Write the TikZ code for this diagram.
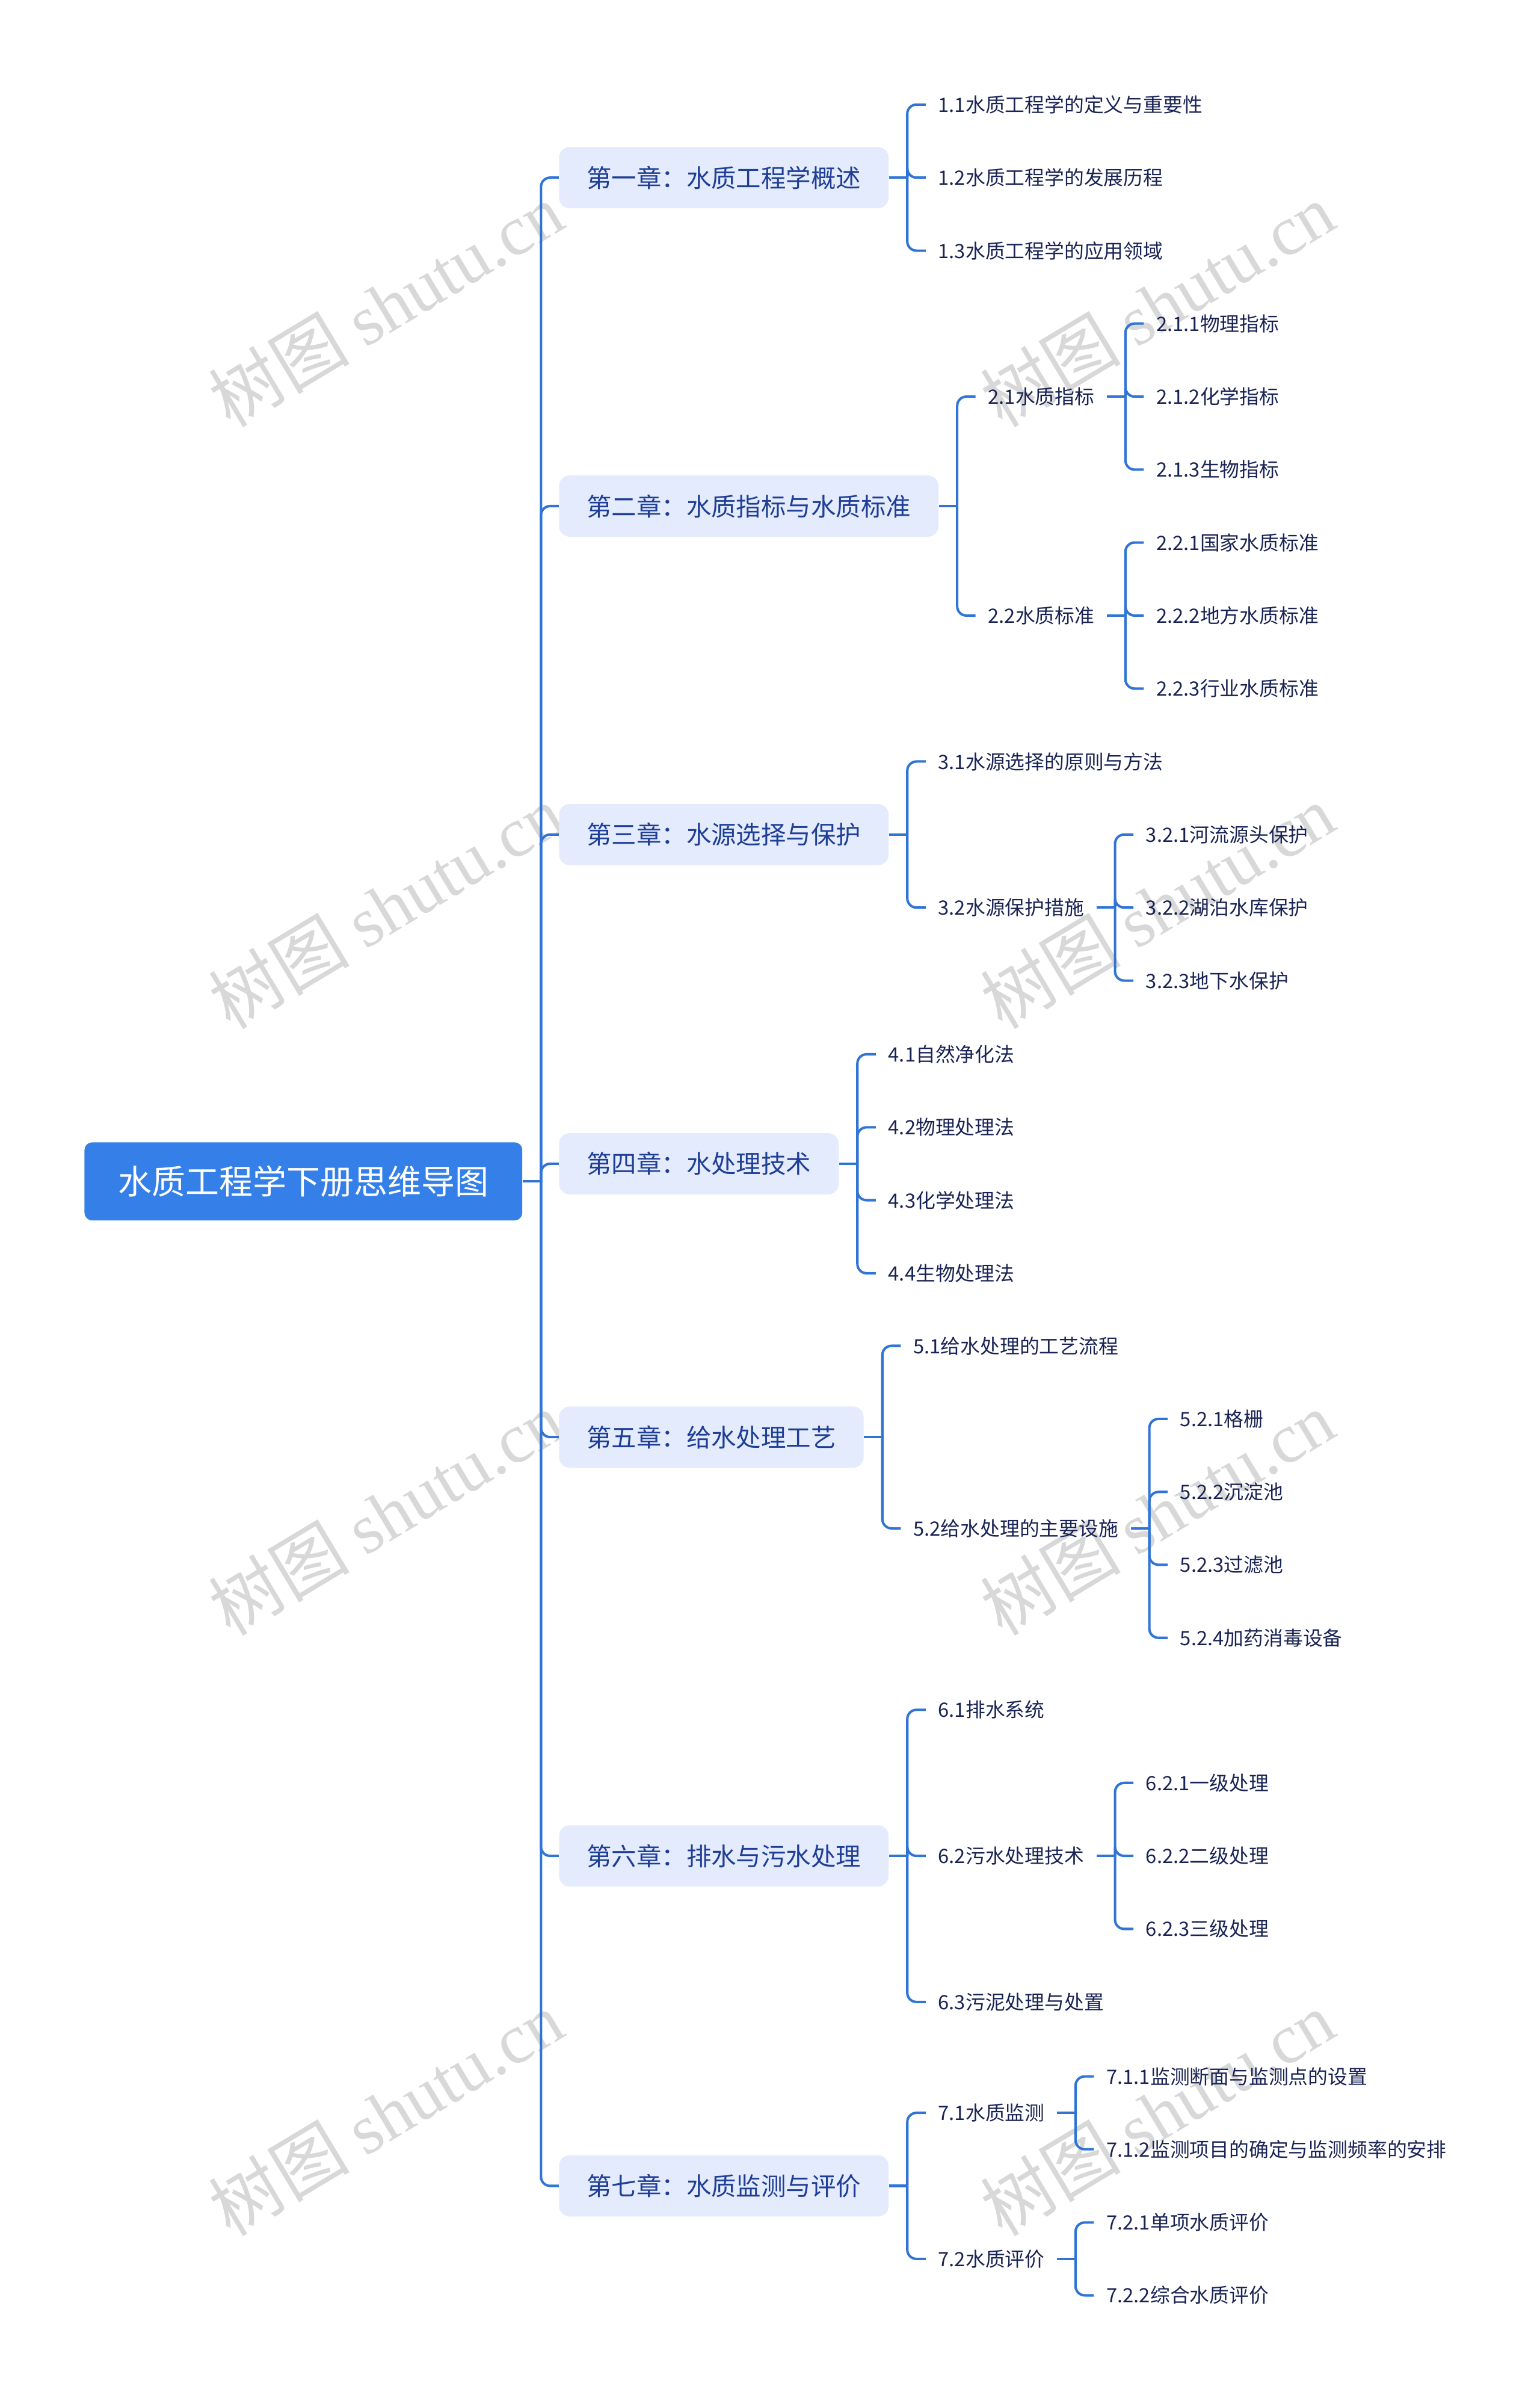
\documentclass[tikz,border=0pt]{standalone}
\usepackage{fontspec}
\setmainfont{Noto Sans CJK SC}
\newfontfamily\wmserif{Liberation Serif}
\usepackage{xcolor}
\usepackage{tikz}
\usetikzlibrary{positioning}

\definecolor{linecol}{HTML}{3075D6}
\definecolor{rootfill}{HTML}{3580E8}
\definecolor{chapfill}{HTML}{E3EBFC}
\definecolor{chaptext}{HTML}{1F3E96}
\definecolor{leaftext}{HTML}{1A2454}
\definecolor{wmcol}{HTML}{D8D8D8}

\tikzset{
  rootbox/.style={anchor=west,fill=rootfill,text=white,rounded corners=5pt,
    minimum height=51pt,inner xsep=22pt,font=\fontsize{22}{26}\selectfont},
  chapbox/.style={anchor=west,fill=chapfill,text=chaptext,rounded corners=7pt,
    minimum height=40pt,inner xsep=18pt,font=\fontsize{16.3}{20}\selectfont},
  leaf/.style={text=leaftext,inner xsep=8pt,inner ysep=2pt,
    font=\fontsize{12.9}{16}\selectfont},
  link/.style={draw=linecol,line width=1.6pt,rounded corners=6pt},
  wmark/.style={text=wmcol,rotate=31,font=\fontsize{46}{50}\selectfont}
}

\begin{document}
\begin{tikzpicture}[x=1pt,y=-1pt]
\fill[white] (0,0) rectangle (1006,1568);
\useasboundingbox (0,0) rectangle (1006,1568);
% watermarks
\foreach \yy [count=\i] in {199,592,988,1380}{
  \node[wmark] (wl\i) at (252,\yy) {树图 {\wmserif shutu.cn}};
  \node[wmark] (wr\i) at (756,\yy) {树图 {\wmserif shutu.cn}};
}
% root and chapters
\node[rootbox] (root) at (55,771.5) {水质工程学下册思维导图};
\node[chapbox] (ch1) at (365,116) {第一章：水质工程学概述};
\node[chapbox] (ch2) at (365,330.5) {第二章：水质指标与水质标准};
\node[chapbox] (ch3) at (365,545) {第三章：水源选择与保护};
\node[chapbox] (ch4) at (365,760) {第四章：水处理技术};
\node[chapbox] (ch5) at (365,938.5) {第五章：给水处理工艺};
\node[chapbox] (ch6) at (365,1212) {第六章：排水与污水处理};
\node[chapbox] (ch7) at (365,1427.5) {第七章：水质监测与评价};
% chapter 1
\node[leaf,right=24pt of ch1,yshift=47.7pt] (s11) {1.1水质工程学的定义与重要性};
\node[leaf,right=24pt of ch1] (s12) {1.2水质工程学的发展历程};
\node[leaf,right=24pt of ch1,yshift=-47.7pt] (s13) {1.3水质工程学的应用领域};
% chapter 2
\node[leaf,right=24pt of ch2,yshift=71.5pt] (s21) {2.1水质指标};
\node[leaf,right=24pt of ch2,yshift=-71.5pt] (s22) {2.2水质标准};
\node[leaf,right=24pt of s21,yshift=47.7pt] (s211) {2.1.1物理指标};
\node[leaf,right=24pt of s21] (s212) {2.1.2化学指标};
\node[leaf,right=24pt of s21,yshift=-47.7pt] (s213) {2.1.3生物指标};
\node[leaf,right=24pt of s22,yshift=47.7pt] (s221) {2.2.1国家水质标准};
\node[leaf,right=24pt of s22] (s222) {2.2.2地方水质标准};
\node[leaf,right=24pt of s22,yshift=-47.7pt] (s223) {2.2.3行业水质标准};
% chapter 3
\node[leaf,right=24pt of ch3,yshift=47.7pt] (s31) {3.1水源选择的原则与方法};
\node[leaf,right=24pt of ch3,yshift=-47.7pt] (s32) {3.2水源保护措施};
\node[leaf,right=24pt of s32,yshift=47.7pt] (s321) {3.2.1河流源头保护};
\node[leaf,right=24pt of s32] (s322) {3.2.2湖泊水库保护};
\node[leaf,right=24pt of s32,yshift=-47.7pt] (s323) {3.2.3地下水保护};
% chapter 4
\node[leaf,right=24pt of ch4,yshift=71.5pt] (s41) {4.1自然净化法};
\node[leaf,right=24pt of ch4,yshift=23.8pt] (s42) {4.2物理处理法};
\node[leaf,right=24pt of ch4,yshift=-23.8pt] (s43) {4.3化学处理法};
\node[leaf,right=24pt of ch4,yshift=-71.5pt] (s44) {4.4生物处理法};
% chapter 5
\node[leaf,right=24pt of ch5,yshift=59.6pt] (s51) {5.1给水处理的工艺流程};
\node[leaf,right=24pt of ch5,yshift=-59.6pt] (s52) {5.2给水处理的主要设施};
\node[leaf,right=24pt of s52,yshift=71.5pt] (s521) {5.2.1格栅};
\node[leaf,right=24pt of s52,yshift=23.8pt] (s522) {5.2.2沉淀池};
\node[leaf,right=24pt of s52,yshift=-23.8pt] (s523) {5.2.3过滤池};
\node[leaf,right=24pt of s52,yshift=-71.5pt] (s524) {5.2.4加药消毒设备};
% chapter 6
\node[leaf,right=24pt of ch6,yshift=95.4pt] (s61) {6.1排水系统};
\node[leaf,right=24pt of ch6] (s62) {6.2污水处理技术};
\node[leaf,right=24pt of ch6,yshift=-95.4pt] (s63) {6.3污泥处理与处置};
\node[leaf,right=24pt of s62,yshift=47.7pt] (s621) {6.2.1一级处理};
\node[leaf,right=24pt of s62] (s622) {6.2.2二级处理};
\node[leaf,right=24pt of s62,yshift=-47.7pt] (s623) {6.2.3三级处理};
% chapter 7
\node[leaf,right=24pt of ch7,yshift=47.7pt] (s71) {7.1水质监测};
\node[leaf,right=24pt of ch7,yshift=-47.7pt] (s72) {7.2水质评价};
\node[leaf,right=24pt of s71,yshift=23.8pt] (s711) {7.1.1监测断面与监测点的设置};
\node[leaf,right=24pt of s71,yshift=-23.8pt] (s712) {7.1.2监测项目的确定与监测频率的安排};
\node[leaf,right=24pt of s72,yshift=23.8pt] (s721) {7.2.1单项水质评价};
\node[leaf,right=24pt of s72,yshift=-23.8pt] (s722) {7.2.2综合水质评价};
% connectors
\draw[link] (root.east) -- ++(12,0) coordinate (trunk);
\foreach \c in {ch1,ch2,ch3,ch4,ch5,ch6,ch7} \draw[link] (trunk) |- (\c.west);
\draw[link] (ch1.east) -- ++(12,0) coordinate (b1);
\foreach \s in {s11,s12,s13} \draw[link] (b1) |- (\s.west);
\draw[link] (ch2.east) -- ++(12,0) coordinate (b2);
\foreach \s in {s21,s22} \draw[link] (b2) |- (\s.west);
\draw[link] (s21.east) -- ++(12,0) coordinate (b21);
\foreach \s in {s211,s212,s213} \draw[link] (b21) |- (\s.west);
\draw[link] (s22.east) -- ++(12,0) coordinate (b22);
\foreach \s in {s221,s222,s223} \draw[link] (b22) |- (\s.west);
\draw[link] (ch3.east) -- ++(12,0) coordinate (b3);
\foreach \s in {s31,s32} \draw[link] (b3) |- (\s.west);
\draw[link] (s32.east) -- ++(12,0) coordinate (b32);
\foreach \s in {s321,s322,s323} \draw[link] (b32) |- (\s.west);
\draw[link] (ch4.east) -- ++(12,0) coordinate (b4);
\foreach \s in {s41,s42,s43,s44} \draw[link] (b4) |- (\s.west);
\draw[link] (ch5.east) -- ++(12,0) coordinate (b5);
\foreach \s in {s51,s52} \draw[link] (b5) |- (\s.west);
\draw[link] (s52.east) -- ++(12,0) coordinate (b52);
\foreach \s in {s521,s522,s523,s524} \draw[link] (b52) |- (\s.west);
\draw[link] (ch6.east) -- ++(12,0) coordinate (b6);
\foreach \s in {s61,s62,s63} \draw[link] (b6) |- (\s.west);
\draw[link] (s62.east) -- ++(12,0) coordinate (b62);
\foreach \s in {s621,s622,s623} \draw[link] (b62) |- (\s.west);
\draw[link] (ch7.east) -- ++(12,0) coordinate (b7);
\foreach \s in {s71,s72} \draw[link] (b7) |- (\s.west);
\draw[link] (s71.east) -- ++(12,0) coordinate (b71);
\foreach \s in {s711,s712} \draw[link] (b71) |- (\s.west);
\draw[link] (s72.east) -- ++(12,0) coordinate (b72);
\foreach \s in {s721,s722} \draw[link] (b72) |- (\s.west);
\end{tikzpicture}
\end{document}
